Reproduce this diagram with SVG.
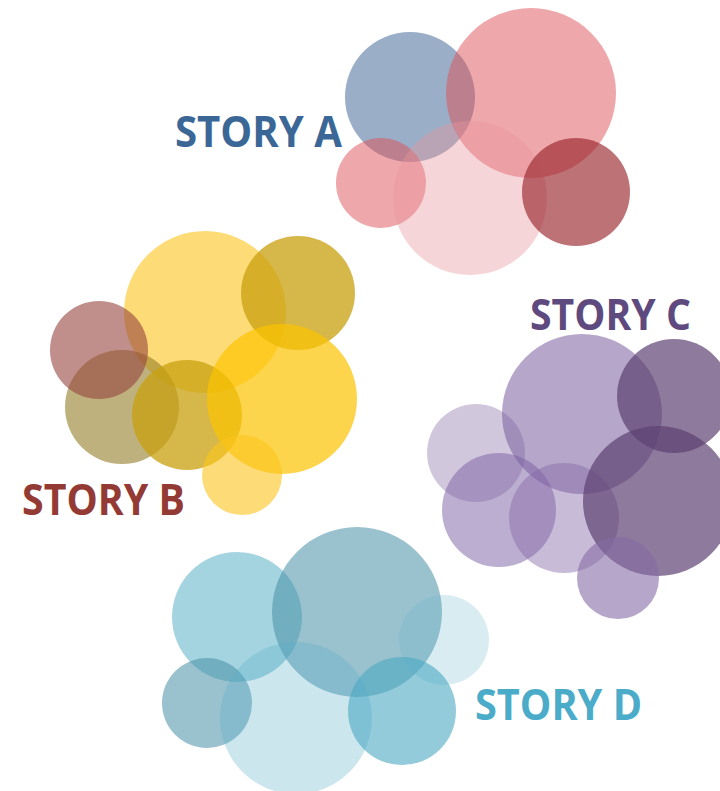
<svg xmlns="http://www.w3.org/2000/svg" width="720" height="791" viewBox="0 0 720 791">
<style>
.lbl{font-family:"Open Sans","Liberation Sans",sans-serif;font-weight:700;font-size:43px}
</style>
<rect width="720" height="791" fill="#ffffff"/>
<g id="story-a">
<circle cx="410" cy="97" r="65" fill="#476c99" opacity="0.55"/>
<circle cx="531" cy="93" r="85" fill="#dd4f55" opacity="0.5"/>
<circle cx="381" cy="183" r="45" fill="#dd4f55" opacity="0.5"/>
<circle cx="470" cy="198" r="77" fill="#e8959d" opacity="0.4"/>
<circle cx="576" cy="192" r="54" fill="#99262c" opacity="0.65"/>
<text class="lbl" x="175" y="147" textLength="167" lengthAdjust="spacingAndGlyphs" fill="#3b6797">STORY A</text>
</g>
<g id="story-b">
<circle cx="205" cy="312" r="81" fill="#fcc51c" opacity="0.6"/>
<circle cx="298" cy="293" r="57" fill="#c89f0e" opacity="0.75"/>
<circle cx="122" cy="407" r="57" fill="#947d28" opacity="0.6"/>
<circle cx="99" cy="350" r="49" fill="#96433e" opacity="0.6"/>
<circle cx="187" cy="415" r="55" fill="#c8a00e" opacity="0.75"/>
<circle cx="282" cy="399" r="75" fill="#fcc301" opacity="0.7"/>
<circle cx="242" cy="475" r="40" fill="#fcc51c" opacity="0.6"/>
<text class="lbl" x="22" y="515" textLength="163" lengthAdjust="spacingAndGlyphs" fill="#943a34">STORY B</text>
</g>
<g id="story-c">
<circle cx="582" cy="414" r="80" fill="#856ba5" opacity="0.6"/>
<circle cx="674" cy="396" r="57" fill="#5c4272" opacity="0.7"/>
<circle cx="476" cy="453" r="49" fill="#7c5f9e" opacity="0.35"/>
<circle cx="499" cy="510" r="57" fill="#795da1" opacity="0.5"/>
<circle cx="564" cy="518" r="55" fill="#8568a8" opacity="0.45"/>
<circle cx="658" cy="501" r="75" fill="#5c4272" opacity="0.7"/>
<circle cx="618" cy="578" r="41" fill="#856ba5" opacity="0.6"/>
<text class="lbl" x="530" y="330" textLength="161" lengthAdjust="spacingAndGlyphs" fill="#5e4a7e">STORY C</text>
</g>
<g id="story-d">
<circle cx="237" cy="617" r="65" fill="#4ba9c3" opacity="0.5"/>
<circle cx="357" cy="612" r="85" fill="#4790a6" opacity="0.55"/>
<circle cx="444" cy="640" r="45" fill="#63b3cb" opacity="0.25"/>
<circle cx="207" cy="703" r="45" fill="#4790a6" opacity="0.55"/>
<circle cx="296" cy="718" r="76" fill="#55acc6" opacity="0.3"/>
<circle cx="402" cy="711" r="54" fill="#4ba8c3" opacity="0.6"/>
<text class="lbl" x="475" y="720" textLength="167" lengthAdjust="spacingAndGlyphs" fill="#4bacc9">STORY D</text>
</g>
</svg>
